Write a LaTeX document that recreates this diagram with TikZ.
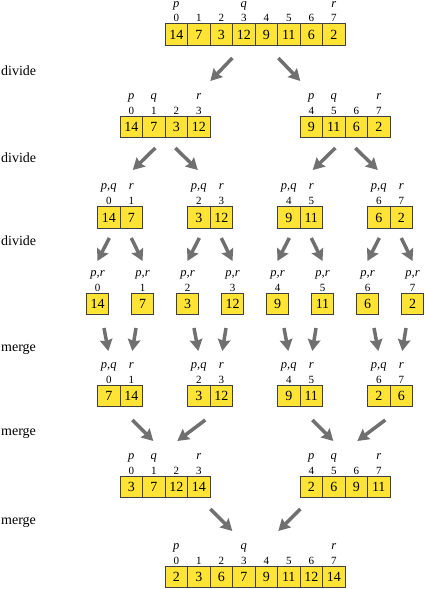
\documentclass[tikz,border=0pt]{standalone}
\usepackage{fontspec}
\setmainfont{Liberation Serif}
\usetikzlibrary{calc,arrows.meta}
\definecolor{cellyellow}{RGB}{255,228,54}
\definecolor{arrowgray}{RGB}{112,112,112}
% one run of cells: #1 row name, #2 left x, #3 centre y, #4 first index, #5 values
\newcommand{\cells}[5]{%
  \foreach \v [count=\k from 0] in {#5}{%
    \pgfmathtruncatemacro{\ix}{#4+\k}
    \node[cell] (#1-\ix) at ({#2+11.25+22.5*\k}, #3) {\v};
    \node[idx] (#1-\ix-i) at ($(#1-\ix)+(0,-13)$) {\ix};
  }}

\begin{document}
\begin{tikzpicture}[x=1pt, y=-1pt,
    cell/.style={draw=black!75, line width=0.6pt, fill=cellyellow, minimum width=22.5pt, minimum height=21.5pt, inner sep=0pt, font=\fontsize{14}{14}\selectfont},
    idx/.style={anchor=base, inner sep=0pt, font=\fontsize{11}{11}\selectfont},
    ptr/.style={anchor=base, inner sep=0pt, font=\fontsize{12.5}{12.5}\selectfont\itshape},
    phase/.style={anchor=base west, inner sep=0pt, font=\fontsize{14}{14}\selectfont},
    mv/.style={draw=arrowgray, line width=3.5pt, -{Stealth[length=11.5pt, width=12.5pt, inset=1.5pt]}}]
		\useasboundingbox (0,0) rectangle (425,589);
		%%%%% START %%%%%
		
		\node[phase] (divide1) at (1, 75) {divide};
		\node[phase] (divide2) at (1, 162) {divide};
		\node[phase] (divide3) at (1, 245) {divide};
		\node[phase] (merge1) at (1, 351) {merge};
		\node[phase] (merge2) at (1, 435) {merge};
		\node[phase] (merge3) at (1, 524) {merge};
		
		% whole array
		\cells{r0}{165}{34.5}{0}{14,7,3,12,9,11,6,2}
		\node[ptr] (r0-p) at ($(r0-0)+(0,-26.5)$) {p};
		\node[ptr] (r0-q) at ($(r0-3)+(0,-26.5)$) {q};
		\node[ptr] (r0-r) at ($(r0-7)+(0,-26.5)$) {r};
		
		% halves
		\cells{r1}{120}{127}{0}{14,7,3,12}
		\cells{r1}{300}{127}{4}{9,11,6,2}
		\foreach \a/\b/\c in {0/1/3, 4/5/7}{
			\node[ptr] (r1-\a-p) at ($(r1-\a)+(0,-28)$) {p};
			\node[ptr] (r1-\b-q) at ($(r1-\b)+(0,-28)$) {q};
			\node[ptr] (r1-\c-r) at ($(r1-\c)+(0,-28)$) {r};
		}
		
		% quarters
		\cells{r2}{97.5}{217.5}{0}{14,7}
		\cells{r2}{187.5}{217.5}{2}{3,12}
		\cells{r2}{277.5}{217.5}{4}{9,11}
		\cells{r2}{367.5}{217.5}{6}{6,2}
		
		% single cells
		\cells{r3}{86.25}{304}{0}{14}
		\cells{r3}{131.25}{304}{1}{7}
		\cells{r3}{176.25}{304}{2}{3}
		\cells{r3}{221.25}{304}{3}{12}
		\cells{r3}{266.25}{304}{4}{9}
		\cells{r3}{311.25}{304}{5}{11}
		\cells{r3}{356.25}{304}{6}{6}
		\cells{r3}{401.25}{304}{7}{2}
		\foreach \a in {0,...,7}
			\node[ptr] (r3-\a-pr) at ($(r3-\a)+(0,-28)$) {p,r};
		
		% merged pairs
		\cells{r4}{97.5}{396}{0}{7,14}
		\cells{r4}{187.5}{396}{2}{3,12}
		\cells{r4}{277.5}{396}{4}{9,11}
		\cells{r4}{367.5}{396}{6}{2,6}
		\foreach \a/\b in {0/1, 2/3, 4/5, 6/7}{
			\node[ptr] (r2-\a-pq) at ($(r2-\a)+(0,-28)$) {p,q};
			\node[ptr] (r2-\b-r) at ($(r2-\b)+(0,-28)$) {r};
			\node[ptr] (r4-\a-pq) at ($(r4-\a)+(0,-28)$) {p,q};
			\node[ptr] (r4-\b-r) at ($(r4-\b)+(0,-28)$) {r};
		}
		
		% merged halves
		\cells{r5}{120}{487}{0}{3,7,12,14}
		\cells{r5}{300}{487}{4}{2,6,9,11}
		\foreach \a/\b/\c in {0/1/3, 4/5/7}{
			\node[ptr] (r5-\a-p) at ($(r5-\a)+(0,-28)$) {p};
			\node[ptr] (r5-\b-q) at ($(r5-\b)+(0,-28)$) {q};
			\node[ptr] (r5-\c-r) at ($(r5-\c)+(0,-28)$) {r};
		}
		
		% sorted array
		\cells{r6}{165}{577}{0}{2,3,6,7,9,11,12,14}
		\node[ptr] (r6-p) at ($(r6-0)+(0,-28)$) {p};
		\node[ptr] (r6-q) at ($(r6-3)+(0,-28)$) {q};
		\node[ptr] (r6-r) at ($(r6-7)+(0,-28)$) {r};
		
		% divide arrows
		\draw[mv] ($(r0-3.east)+(-23,23.5)$) -- ($(r1-1.east)+(45,-46)$);
		\draw[mv] ($(r0-3.east)+(23,23.5)$) -- ($(r1-5.east)+(-45,-46)$);
		\foreach \a/\b/\c in {1/0/2, 5/4/6}{
			\draw[mv] ($(r1-\a.east)+(-10,21)$) -- ($(r2-\b.east)+(12.5,-47.5)$);
			\draw[mv] ($(r1-\a.east)+(10,21)$) -- ($(r2-\c.east)+(-12.5,-47.5)$);
		}
		\foreach \a/\b in {0/1, 2/3, 4/5, 6/7}{
			\draw[mv] ($(r2-\a.east)+(-11,20.5)$) -- ($(r3-\a)+(0,-43)$);
			\draw[mv] ($(r2-\a.east)+(11,20.5)$) -- ($(r3-\b)+(0,-43)$);
		}
		
		% merge arrows
		\foreach \a/\b in {0/1, 2/3, 4/5, 6/7}{
			\draw[mv] ($(r3-\a)+(6.5,24)$) -- ($(r4-\a.east)+(-12,-45)$);
			\draw[mv] ($(r3-\b)+(-6.5,24)$) -- ($(r4-\a.east)+(12,-45)$);
		}
		\foreach \a/\b/\c in {0/2/1, 4/6/5}{
			\draw[mv] ($(r4-\a.east)+(12,24)$) -- ($(r5-\c.east)+(-12,-46)$);
			\draw[mv] ($(r4-\b.east)+(-5,24)$) -- ($(r5-\c.east)+(12,-46)$);
		}
		\draw[mv] ($(r5-1.east)+(45,22)$) -- ($(r6-3.east)+(-23,-46)$);
		\draw[mv] ($(r5-5.east)+(-45,22)$) -- ($(r6-3.east)+(23,-46)$);
		
		%%%%% END %%%%%
	\end{tikzpicture}
\end{document}
